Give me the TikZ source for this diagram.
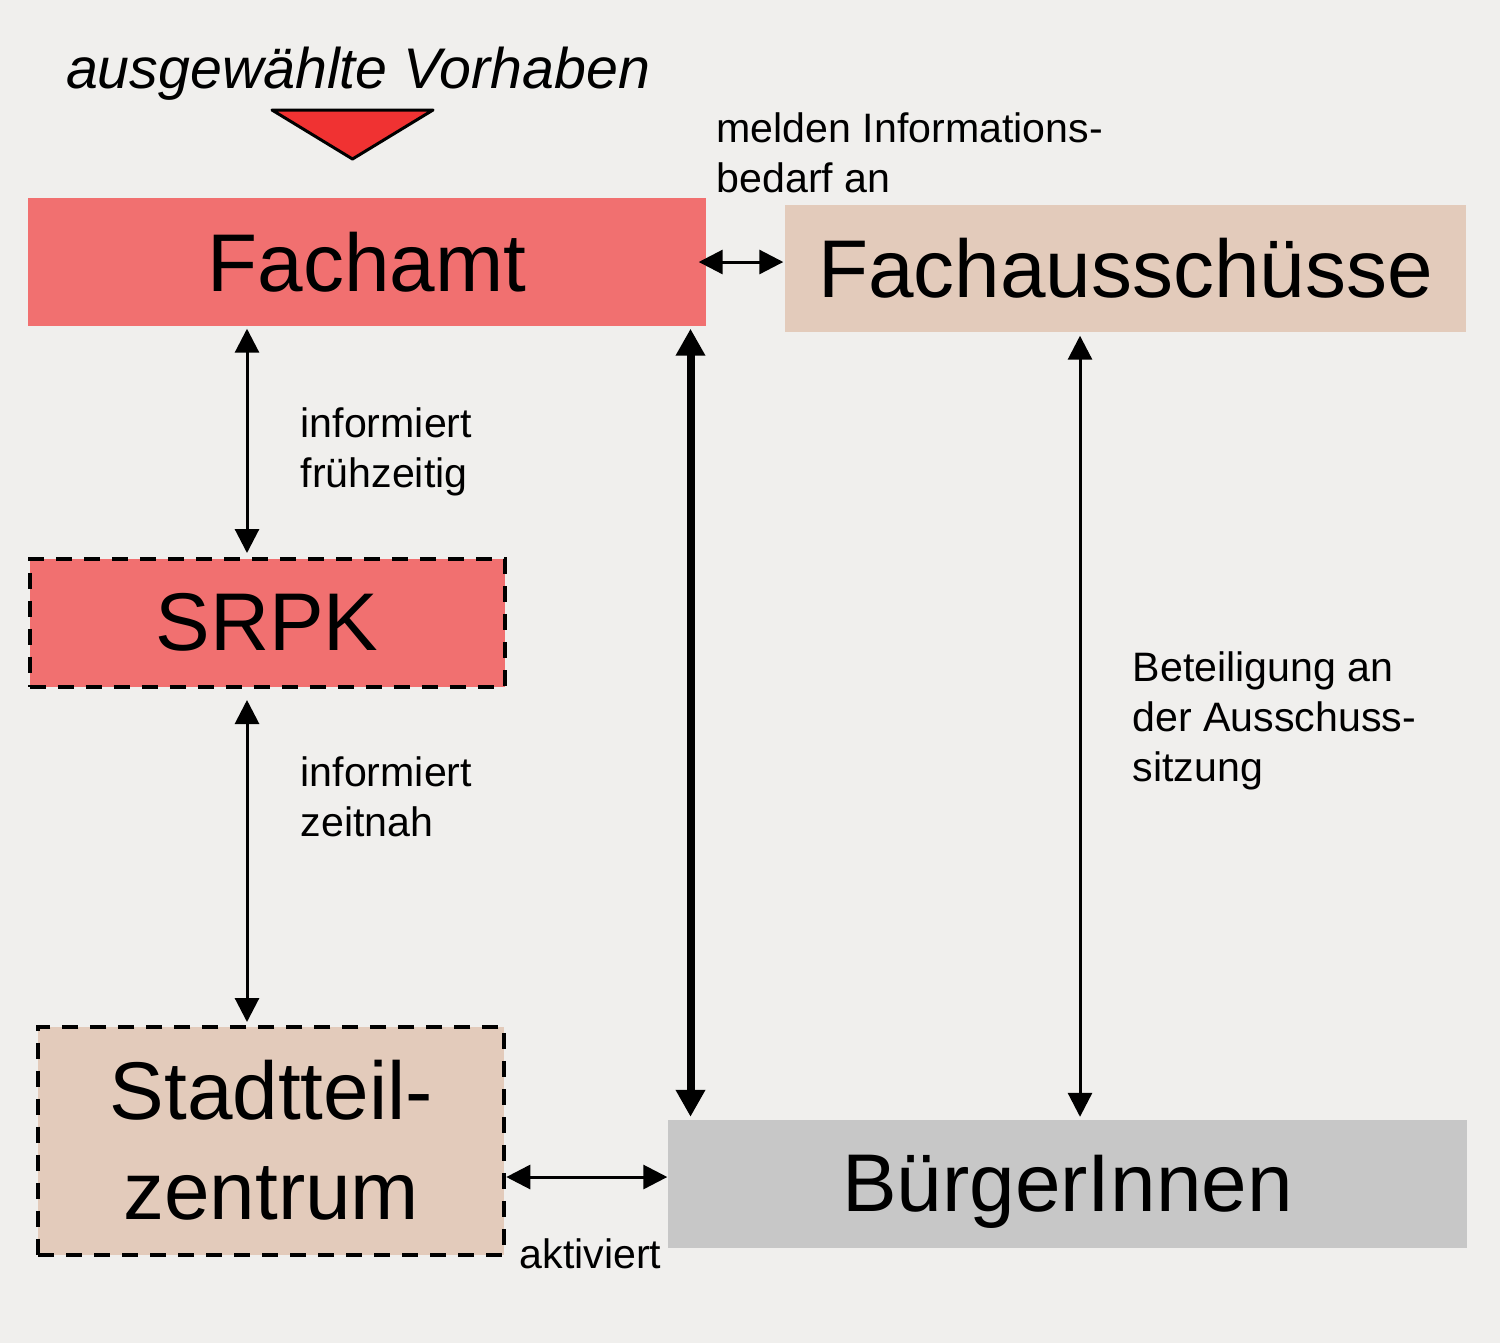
\documentclass[tikz,border=0pt]{standalone}
\usepackage{fontspec}
\setmainfont{Liberation Sans}
\usetikzlibrary{arrows.meta}
\usetikzlibrary{calc}
\definecolor{paper}{RGB}{240,239,237}
\definecolor{amtred}{RGB}{241,112,112}
\definecolor{skin}{RGB}{227,203,187}
\definecolor{citizen}{RGB}{199,199,199}
\definecolor{trired}{RGB}{240,50,50}
\tikzset{
  box/.style={inner sep=0pt, align=center, font=\fontsize{23.3}{28.5}\selectfont},
  dashbox/.style={box, draw=black, line width=0.4mm, dash pattern=on 1.6mm off 1.2mm},
  lbl/.style={anchor=north west, inner sep=0pt, align=left, font=\fontsize{11.7}{14.2}\selectfont},
  biarr/.style={{Triangle[length=2.4mm,width=2.4mm]}-{Triangle[length=2.4mm,width=2.4mm]}, line width=0.3mm},
  bigarr/.style={{Triangle[length=2.7mm,width=2.8mm]}-{Triangle[length=2.7mm,width=2.8mm]}, line width=0.8mm}
}
\begin{document}
\begin{tikzpicture}[x=0.1mm,y=-0.1mm]
  \fill[paper] (0,0) rectangle (1500,1343);
  \useasboundingbox (0,0) rectangle (1500,1343);
  \node[anchor=base, inner sep=0pt, font=\fontsize{16.3}{19}\selectfont\itshape] (titel) at (358,88) {ausgew\"ahlte Vorhaben};
  \draw[fill=trired, line width=0.3mm, line join=round] (272,110) -- (433,110) -- (352.5,159) -- cycle;
  \node[box, fill=amtred, minimum width=67.8mm, minimum height=12.8mm] (fachamt) at (367,262) {Fachamt};
  \node[box, fill=skin, minimum width=68.1mm, minimum height=12.7mm] (ausschuss) at (1125.5,268.5) {Fachaussch\"usse};
  \node[dashbox, fill=amtred, minimum width=47.5mm, minimum height=12.8mm] (srpk) at (267,622.5) {SRPK};
  \node[dashbox, fill=skin, minimum width=46.6mm, minimum height=22.8mm, font=\fontsize{23.3}{28.45}\selectfont] (stz) at (271.3,1140.5) {Stadtteil-\\zentrum};
  \node[box, fill=citizen, minimum width=79.9mm, minimum height=12.8mm, text depth=0pt] (buerger) at (1067.5,1183.5) {B\"urgerInnen};
  \coordinate (lx) at (247,0);
  \coordinate (mx) at (690.5,0);
  \coordinate (rx) at (1080,0);
  \coordinate (by) at (0,1177);
  \draw[biarr, shorten <=0.2mm, shorten >=0.35mm] (fachamt.south -| lx) -- (srpk.north -| lx);
  \draw[biarr, shorten <=1.15mm, shorten >=0.25mm] (srpk.south -| lx) -- (stz.north -| lx);
  \draw[bigarr, shorten <=0.2mm, shorten >=0.2mm] (fachamt.south -| mx) -- (buerger.north -| mx);
  \draw[biarr, shorten <=0.3mm, shorten >=0.2mm] (ausschuss.south -| rx) -- (buerger.north -| rx);
  \draw[biarr, shorten <=-0.8mm, shorten >=0.1mm] (fachamt.east) -- (ausschuss.west |- fachamt.east);
  \draw[biarr] (stz.east |- by) -- (buerger.west |- by);
  \node[lbl] (melden) at (716,112) {melden Informations-\\bedarf an};
  \node[lbl] (frueh) at (300,407) {informiert\\fr\"uhzeitig};
  \node[lbl] (zeitnah) at (300,756) {informiert\\zeitnah};
  \node[lbl] (beteil) at (1132,651) {Beteiligung an\\der Ausschuss-\\sitzung};
  \node[lbl] (aktiv) at (519,1238) {aktiviert};
\end{tikzpicture}
\end{document}
